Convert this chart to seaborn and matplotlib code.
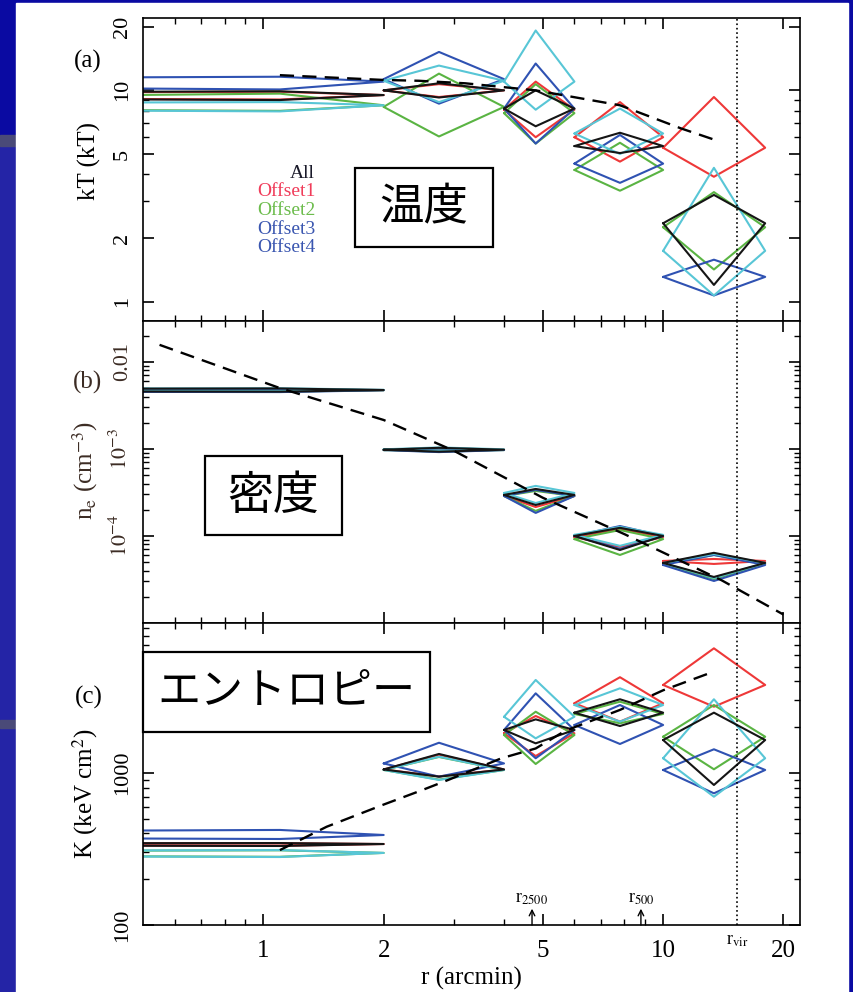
import matplotlib
matplotlib.use('Agg')
import matplotlib.pyplot as plt
from matplotlib.patches import Rectangle
from matplotlib.ticker import FixedLocator, FixedFormatter, NullFormatter
import pandas as pd
import seaborn as sns

# --- data ------------------------------------------------------------------
series = ['All', 'Offset1', 'Offset2', 'Offset3', 'Offset4']
line_colors = ['#151515', '#ee3838', '#5ab443', '#2f52b2', '#58c6d6']
text_colors = ['#1a1a2a', '#f03c5a', '#6cbc4c', '#3a56b0', '#3a56b0']

# radial bins (arcmin)
r_in = [0, 2, 4, 6, 10]
r_out = [2, 4, 6, 10, 18]
r_mid = [1.1, 2.75, 4.8, 7.8, 13.4]

# temperature kT, rows follow `series`, columns follow the bins
kt_val = [[9.5, 10.0, 8.2, 5.45, 2.35],
          [9.5, 10.0, 8.1, 6.0, 5.35],
          [8.5, 8.35, 7.8, 4.2, 2.25],
          [11.0, 11.3, 8.2, 4.5, 1.31],
          [8.5, 11.1, 11.0, 6.25, 1.74]]
kt_lo = [[9.0, 9.25, 6.76, 5.05, 1.2],
         [9.05, 9.3, 6.0, 4.6, 3.9],
         [8.0, 6.05, 5.6, 3.35, 1.42],
         [10.1, 8.65, 5.6, 3.65, 1.07],
         [7.95, 8.8, 8.1, 5.0, 1.07]]
kt_hi = [[9.9, 10.8, 10.0, 6.3, 3.2],
         [9.85, 10.7, 11.0, 8.8, 9.3],
         [9.65, 12.0, 10.7, 5.65, 3.3],
         [11.6, 15.2, 13.4, 6.15, 1.58],
         [8.8, 13.1, 19.2, 8.2, 4.3]]

# electron density n_e (cm^-3)
ne_val = [[4.75e-3, 9.8e-4, 2.96e-4, 1.0e-4, 4.9e-5],
          [4.75e-3, 9.8e-4, 2.88e-4, 9.7e-5, 5.16e-5],
          [4.72e-3, 9.7e-4, 2.88e-4, 9.2e-5, 4.77e-5],
          [4.72e-3, 9.7e-4, 2.88e-4, 1.0e-4, 4.64e-5],
          [4.78e-3, 9.9e-4, 3.12e-4, 1.03e-4, 4.9e-5]]
ne_lo = [[4.55e-3, 9.3e-4, 2.27e-4, 6.9e-5, 3.38e-5],
         [4.6e-3, 9.4e-4, 2.15e-4, 7.5e-5, 4.77e-5],
         [4.55e-3, 9.3e-4, 1.94e-4, 6.05e-5, 3.2e-5],
         [4.5e-3, 9.2e-4, 1.84e-4, 7.1e-5, 3.04e-5],
         [4.62e-3, 9.5e-4, 2.39e-4, 7.7e-5, 3.29e-5]]
ne_hi = [[4.95e-3, 1.03e-3, 3.47e-4, 1.24e-4, 6.4e-5],
         [4.9e-3, 1.02e-3, 3.38e-4, 1.2e-4, 5.44e-5],
         [4.88e-3, 1.01e-3, 3.29e-4, 1.17e-4, 6.05e-5],
         [4.88e-3, 1.01e-3, 3.38e-4, 1.3e-4, 6.05e-5],
         [4.98e-3, 1.04e-3, 3.76e-4, 1.27e-4, 6.2e-5]]

# entropy K (keV cm^2)
k_val = [[341, 1055, 1919, 2494, 1648],
         [341, 1055, 1825, 2877, 3795],
         [298, 1047, 1778, 2445, 1733],
         [391, 1156, 1919, 2070, 1047],
         [298, 1047, 2344, 2800, 1250]]
k_lo = [[331, 946, 1567, 2037, 834],
        [332, 950, 1293, 2178, 2730],
        [281, 905, 1146, 2125, 1058],
        [368, 946, 1250, 1552, 735],
        [280, 900, 1690, 2178, 698]]
k_hi = [[346, 1334, 2253, 3055, 2494],
        [345, 1320, 2371, 4267, 6610],
        [310, 1275, 2530, 2945, 2800],
        [422, 1581, 3342, 2800, 1432],
        [311, 1280, 4093, 3606, 3055]]

# dashed model curves
kt_mod_r = [1.1, 2.0, 2.45, 3.2, 4.8, 7.8, 11.1, 13.4]
kt_mod = [11.8, 11.2, 11.1, 10.8, 10.0, 8.5, 6.6, 5.85]
ne_mod_r = [0.55, 1.1, 2.0, 3.0, 5.0, 8.0, 14.0, 20.0]
ne_mod = [1.57e-2, 5.0e-3, 2.15e-3, 9.5e-4, 2.75e-4, 1.05e-4, 3.1e-5, 1.25e-5]
k_mod_r = [1.1, 1.44, 2.0, 2.5, 2.9, 3.94, 4.8, 5.7, 7.8, 10.0, 13.4]
k_mod = [311, 443, 620, 773, 900, 1250, 1450, 1900, 2600, 3500, 4650]

# characteristic radii (arcmin)
r_vir = 15.3
r2500 = 4.7
r500 = 8.8


def diamonds(val, lo, hi):
    rows = []
    for s, name in enumerate(series):
        for b in range(len(r_mid)):
            x0 = max(r_in[b], 1e-3)
            xs = [x0, r_mid[b], r_out[b], r_mid[b], x0]
            ys = [val[s][b], hi[s][b], val[s][b], lo[s][b], val[s][b]]
            for x, y in zip(xs, ys):
                rows.append({'r': x, 'y': y, 'series': name, 'bin': b})
    return pd.DataFrame(rows)


sns.set_style('ticks')
plt.rcParams['font.family'] = ['Liberation Serif', 'DejaVu Serif']
plt.rcParams['mathtext.fontset'] = 'stix'
plt.rcParams['axes.linewidth'] = 1.2
for key in ('text.color', 'axes.labelcolor', 'xtick.color', 'ytick.color'):
    plt.rcParams[key] = 'black'

fig = plt.figure(figsize=(8.54, 9.92), dpi=100, facecolor='#0a0aa2')
W, H = 854.0, 992.0
# slide background pieces
fig.patches.append(Rectangle((0, 0), 16 / W, 1 - 145 / H, transform=fig.transFigure,
                             color='#2424a6', zorder=-3))
fig.patches.append(Rectangle((0, 1 - 146 / H), 16 / W, 11 / H, transform=fig.transFigure,
                             color='#4a4a78', zorder=-3))
fig.patches.append(Rectangle((0, 1 - 728 / H), 16 / W, 8 / H, transform=fig.transFigure,
                             color='#4a4a78', zorder=-3))
fig.patches.append(Rectangle((16 / W, 0), 832 / W, 1 - 3 / H, transform=fig.transFigure,
                             color='white', zorder=-2))

left, width = 143 / W, 657 / W
ax_a = fig.add_axes([left, 1 - 321 / H, width, 303 / H])
ax_b = fig.add_axes([left, 1 - 623 / H, width, 302 / H])
ax_c = fig.add_axes([left, 1 - 925 / H, width, 302 / H])

palette = dict(zip(series, line_colors))
draw_order = series[1:] + series[:1]   # "All" drawn last, on top
panels = [(ax_a, kt_val, kt_lo, kt_hi, kt_mod_r, kt_mod),
          (ax_b, ne_val, ne_lo, ne_hi, ne_mod_r, ne_mod),
          (ax_c, k_val, k_lo, k_hi, k_mod_r, k_mod)]

for ax, val, lo, hi, mr, mv in panels:
    ax.set_facecolor('white')
    ax.set_xscale('log')
    ax.set_yscale('log')
    df = diamonds(val, lo, hi)
    sns.lineplot(data=df, x='r', y='y', hue='series', hue_order=draw_order,
                 units='bin', estimator=None, sort=False, palette=palette,
                 lw=1.5, legend=False, ax=ax)
    sns.lineplot(x=mr, y=mv, color='black', lw=1.7, linestyle=(0, (6, 3.5)),
                 sort=False, ax=ax)
    ax.axvline(r_vir, color='black', ls=':', lw=1.2)
    ax.set_xlim(0.5, 22)
    ax.set_xlabel('')
    ax.set_ylabel('')
    ax.xaxis.set_major_locator(FixedLocator([1, 2, 5, 10, 20]))
    ax.xaxis.set_minor_locator(FixedLocator([0.6, 0.7, 0.8, 0.9, 3, 4, 6, 7, 8, 9]))
    ax.xaxis.set_minor_formatter(NullFormatter())
    ax.tick_params(which='both', direction='in', top=True, right=True, color='black')
    ax.tick_params(which='major', length=8, width=1.2)
    ax.tick_params(which='minor', length=4, width=1.0)
    ax.tick_params(axis='y', which='major', labelsize=16, pad=8)
    for sp in ax.spines.values():
        sp.set_color('black')

for ax in (ax_a, ax_b):
    ax.xaxis.set_major_formatter(NullFormatter())

ax_c.xaxis.set_major_formatter(FixedFormatter(['1', '2', '5', '10', '20']))
ax_c.tick_params(axis='x', which='major', labelsize=18, pad=11)
ax_c.set_xlabel('r (arcmin)', fontsize=18, labelpad=3)

# y axes
ax_a.set_ylim(0.81, 22)
ax_a.yaxis.set_major_locator(FixedLocator([1, 2, 5, 10, 20]))
ax_a.yaxis.set_major_formatter(FixedFormatter(['1', '2', '5', '10', '20']))
ax_a.yaxis.set_minor_locator(FixedLocator([3, 4, 6, 7, 8, 9]))

ax_b.set_ylim(1.0e-5, 0.0295)
ax_b.yaxis.set_major_locator(FixedLocator([1e-4, 1e-3, 1e-2]))
ax_b.yaxis.set_major_formatter(FixedFormatter(['$10^{-4}$', '$10^{-3}$', '0.01']))
ax_b.yaxis.set_minor_locator(FixedLocator([m * 10.0 ** e for e in (-5, -4, -3, -2)
                                           for m in range(2, 10)]))

ax_c.set_ylim(100, 9700)
ax_c.yaxis.set_major_locator(FixedLocator([100, 1000]))
ax_c.yaxis.set_major_formatter(FixedFormatter(['100', '1000']))
ax_c.yaxis.set_minor_locator(FixedLocator([m * 10.0 ** e for e in (2, 3)
                                           for m in range(2, 10)]))

for ax in (ax_a, ax_b, ax_c):
    ax.yaxis.set_minor_formatter(NullFormatter())
    plt.setp(ax.get_yticklabels(), rotation=90, va='center')

brown = '#3c2c24'
for lab in ax_b.get_yticklabels():
    lab.set_color(brown)

# axis titles and panel tags
ax_a.set_ylabel('kT (kT)', fontsize=18)
ax_a.yaxis.set_label_coords(-0.064, 0.528)
ax_b.set_ylabel(r'n$_{\rm e}$ (cm$^{-3}$)', fontsize=18, color=brown)
ax_b.yaxis.set_label_coords(-0.066, 0.503)
ax_c.set_ylabel(r'K (keV cm$^{2}$)', fontsize=18)
ax_c.yaxis.set_label_coords(-0.066, 0.434)

ax_a.text(-0.084, 0.858, '(a)', transform=ax_a.transAxes, fontsize=18,
          ha='center', va='center')
ax_b.text(-0.084, 0.798, '(b)', transform=ax_b.transAxes, fontsize=18,
          ha='center', va='center', color=brown)
ax_c.text(-0.082, 0.755, '(c)', transform=ax_c.transAxes, fontsize=18,
          ha='center', va='center')

# colour-coded key
key_y = [0.488, 0.429, 0.366, 0.302, 0.244]
for name, c, yy in zip(series, text_colors, key_y):
    ax_a.text(0.262, yy, name, transform=ax_a.transAxes, color=c, fontsize=14,
              ha='right', va='center')

# Japanese captions in boxes
jp = ['Noto Sans CJK JP', 'DejaVu Sans']
boxes = [(ax_a, 0.3227, 0.244, 0.5327, 0.505, '温度', 32),
         (ax_b, 0.0944, 0.291, 0.303, 0.553, '密度', 33),
         (ax_c, 0.0, 0.639, 0.437, 0.904, 'エントロピー', 31)]
for ax, x0, y0, x1, y1, txt, fs in boxes:
    ax.add_patch(Rectangle((x0, y0), x1 - x0, y1 - y0, transform=ax.transAxes,
                           fill=True, facecolor='white', edgecolor='black',
                           lw=1.6, zorder=5, clip_on=False))
    ax.text((x0 + x1) / 2, (y0 + y1) / 2, txt, transform=ax.transAxes,
            family=jp, fontsize=fs, weight='normal', color='black',
            ha='center', va='center', zorder=6)

# characteristic radii markers
for rr, name in ((r2500, r'r$_{2500}$'), (r500, r'r$_{500}$')):
    ax_c.annotate('', xy=(rr, 128), xytext=(rr, 100),
                  arrowprops=dict(arrowstyle='->', color='black', lw=1.0,
                                  shrinkA=0, shrinkB=0))
    ax_c.text(rr, 132, name, fontsize=13, ha='center', va='bottom')
ax_c.text(r_vir, -0.052, r'r$_{\rm vir}$', transform=ax_c.get_xaxis_transform(),
          fontsize=13, ha='center', va='center')

fig.savefig('out.png', dpi=100, facecolor=fig.get_facecolor())
